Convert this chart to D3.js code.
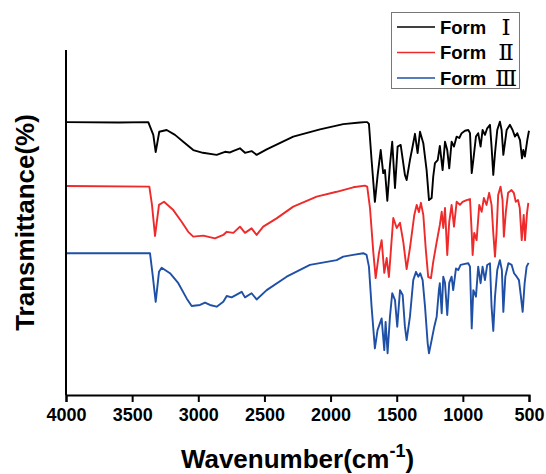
<!DOCTYPE html>
<html>
<head>
<meta charset="utf-8">
<script src="https://cdn.jsdelivr.net/npm/d3@7"></script>
<style>
  body { margin: 0; background: #fff; }
  svg text { font-family: "Liberation Sans", Arial, sans-serif; font-weight: bold; }
  svg text.numeral { font-family: "DejaVu Serif", "Liberation Serif", serif; font-weight: normal; }
</style>
</head>
<body>
<div id="chart"></div>
<script>
// [wavenumber, transmittance (offset, a.u.)]
var formI = [
  [4000,79.1],[3600,79.0],[3378,79.1],[3340,75.4],[3322,70.4],[3295,76.3],[3239,76.8],[3176,75.4],
  [3100,73.0],[3038,71.0],[2965,70.2],[2861,69.6],[2798,70.5],[2760,70.3],[2738,70.7],[2685,71.5],
  [2647,70.2],[2597,70.7],[2559,69.6],[2483,71.2],[2282,74.9],[2080,77.0],[1904,78.5],[1778,79.0],
  [1741,79.1],[1723,79.1],[1710,78.6],[1690,68.1],[1665,56.0],[1644,63.8],[1621,71.0],[1602,64.3],
  [1589,65.2],[1571,56.3],[1551,66.7],[1534,73.4],[1513,60.0],[1493,72.0],[1470,72.5],[1438,63.8],
  [1425,62.3],[1400,68.1],[1382,71.6],[1362,75.7],[1342,70.1],[1324,76.3],[1299,73.0],[1274,65.2],
  [1256,56.5],[1236,57.1],[1224,63.3],[1211,67.2],[1190,68.1],[1174,72.2],[1153,65.2],[1135,73.4],
  [1118,71.0],[1103,65.7],[1085,73.4],[1067,72.0],[1047,74.9],[1027,74.5],[1009,75.9],[984,76.6],
  [959,76.8],[946,75.9],[933,64.3],[921,68.1],[901,74.9],[884,75.9],[866,72.0],[851,76.8],
  [833,75.4],[816,77.3],[795,78.3],[783,72.0],[770,63.8],[757,70.1],[740,76.8],[720,79.2],
  [707,76.8],[694,69.6],[682,73.0],[669,76.8],[644,78.3],[624,76.8],[606,74.9],[589,75.9],
  [568,73.9],[553,68.6],[543,71.0],[531,69.1],[513,73.9],[500,76.6]
];

var formII = [
  [4000,60.6],[3370,60.4],[3350,55.1],[3327,46.1],[3297,55.1],[3259,56.0],[3189,53.6],[3126,50.2],
  [3076,47.3],[3038,45.9],[2962,46.2],[2874,45.4],[2811,46.4],[2785,47.3],[2735,47.0],[2685,48.8],
  [2647,47.0],[2597,48.3],[2559,46.4],[2509,48.8],[2408,51.2],[2282,54.6],[2105,57.5],[1954,58.9],
  [1829,60.2],[1741,60.7],[1723,60.4],[1702,54.2],[1677,41.4],[1659,33.9],[1634,41.2],[1614,44.9],
  [1594,35.4],[1576,39.7],[1559,34.2],[1526,51.3],[1500,48.4],[1475,49.9],[1450,44.3],[1425,36.5],
  [1400,42.6],[1367,52.2],[1349,55.1],[1332,53.0],[1317,55.7],[1299,52.2],[1281,42.6],[1262,34.2],
  [1241,33.9],[1224,38.6],[1198,44.3],[1174,49.3],[1160,53.1],[1148,48.4],[1135,54.2],[1118,40.6],
  [1103,50.2],[1085,55.1],[1067,48.8],[1047,56.0],[1022,55.1],[1002,56.0],[972,56.5],[946,56.8],
  [933,47.0],[926,40.6],[914,47.0],[896,44.9],[876,55.1],[858,53.1],[841,57.1],[821,55.1],
  [801,58.6],[783,55.1],[770,47.0],[757,40.1],[745,47.3],[733,58.0],[715,60.4],[700,56.5],
  [690,45.9],[675,53.1],[658,58.6],[632,59.4],[615,58.6],[600,56.0],[583,56.5],[570,54.2],
  [555,44.9],[540,52.2],[530,44.9],[515,52.8],[505,55.7]
];

var formIII = [
  [4000,41.1],[3365,41.1],[3345,34.8],[3322,27.0],[3297,35.7],[3277,36.9],[3214,35.3],[3151,32.4],
  [3088,28.0],[3050,25.8],[2987,26.1],[2949,26.8],[2912,26.1],[2861,25.6],[2811,27.0],[2785,28.7],
  [2748,28.3],[2672,29.9],[2647,28.3],[2597,29.5],[2559,27.7],[2483,30.4],[2332,34.3],[2156,37.7],
  [1954,39.1],[1904,40.1],[1829,40.6],[1753,41.1],[1728,40.6],[1710,37.2],[1690,25.6],[1665,13.5],
  [1645,18.8],[1614,22.2],[1594,13.0],[1584,21.2],[1569,12.1],[1551,22.7],[1534,29.5],[1513,27.5],
  [1496,19.8],[1475,30.4],[1455,29.0],[1438,19.8],[1425,15.9],[1400,22.7],[1375,33.3],[1354,35.7],
  [1337,34.3],[1322,35.3],[1304,33.3],[1286,25.6],[1266,15.0],[1256,12.1],[1236,15.9],[1216,19.8],
  [1198,22.7],[1181,30.4],[1174,32.4],[1160,23.7],[1148,34.3],[1135,32.5],[1118,23.2],[1103,32.5],
  [1085,34.3],[1073,30.4],[1052,36.7],[1035,36.2],[1017,37.7],[984,38.0],[959,38.2],[946,37.2],
  [933,19.3],[921,30.4],[901,28.5],[884,37.2],[866,32.4],[851,37.2],[833,33.3],[816,37.7],
  [795,38.2],[783,25.6],[770,18.6],[757,28.5],[740,36.2],[720,39.1],[705,36.2],[694,24.1],
  [679,34.3],[656,38.2],[631,37.7],[613,35.3],[593,34.3],[576,33.3],[561,28.5],[548,24.1],
  [533,32.4],[518,37.2],[503,38.3]
];

var seriesNames = ["Form", "Form", "Form"];
var seriesNumerals = ["\u2160", "\u2161", "\u2162"];
var seriesColors = ["#000000", "#ee2a2a", "#1f50a6"];
var xTicks = [4000, 3500, 3000, 2500, 2000, 1500, 1000, 500];

var width = 546, height = 474;
var margin = { top: 50, right: 17, bottom: 79, left: 66 };

var svg = d3.select("#chart").append("svg")
    .attr("width", width)
    .attr("height", height);

var x = d3.scaleLinear()
    .domain([4000, 500])
    .range([margin.left, width - margin.right]);

var y = d3.scaleLinear()
    .domain([0, 100])
    .range([height - margin.bottom, margin.top]);

var line = d3.line()
    .x(function (d) { return x(d[0]); })
    .y(function (d) { return y(d[1]); });

[formI, formII, formIII].forEach(function (s, i) {
    svg.append("path")
        .datum(s)
        .attr("fill", "none")
        .attr("stroke", seriesColors[i])
        .attr("stroke-width", 1.9)
        .attr("stroke-linejoin", "round")
        .attr("d", line);
});

// x axis with minor ticks
var minor = d3.range(4000, 499, -250).filter(function (v) { return v % 500 !== 0; });
var gx = svg.append("g")
    .attr("transform", "translate(0," + y(0) + ")");
gx.call(d3.axisBottom(x).tickValues(minor).tickSize(4).tickFormat(""));
gx.call(d3.axisBottom(x).tickValues(xTicks).tickSize(7).tickFormat(d3.format("d")));
gx.selectAll("path, line").attr("stroke", "#000").attr("stroke-width", 2);
gx.selectAll("text")
    .attr("font-size", 18)
    .attr("fill", "#000")
    .attr("dy", "0.9em");

// y axis line only
svg.append("line")
    .attr("x1", x(4000)).attr("x2", x(4000))
    .attr("y1", y(100)).attr("y2", y(0))
    .attr("stroke", "#000")
    .attr("stroke-width", 2);

// axis titles
var xt = svg.append("text")
    .attr("x", (x(4000) + x(500)) / 2)
    .attr("y", 468)
    .attr("text-anchor", "middle")
    .attr("font-size", 26);
xt.append("tspan").text("Wavenumber(cm");
xt.append("tspan").attr("font-size", 18).attr("dy", -11).text("-1");
xt.append("tspan").attr("dy", 11).text(")");

svg.append("text")
    .attr("transform", "translate(34," + ((y(0) + y(100)) / 2) + ") rotate(-90)")
    .attr("text-anchor", "middle")
    .attr("font-size", 26)
    .text("Transmittance(%)");

// legend
var legend = svg.append("g");
legend.append("rect")
    .attr("x", 391.5).attr("y", 12.5)
    .attr("width", 128).attr("height", 76)
    .attr("fill", "#fff")
    .attr("stroke", "#777")
    .attr("stroke-width", 1);

seriesNames.forEach(function (n, i) {
    var ly = 27 + i * 25.5;
    legend.append("line")
        .attr("x1", 397).attr("x2", 435)
        .attr("y1", ly).attr("y2", ly)
        .attr("stroke", seriesColors[i])
        .attr("stroke-width", 1.6);
    legend.append("text")
        .attr("x", 440).attr("y", ly + 6.5)
        .attr("font-size", 18.5)
        .text(n);
    legend.append("text")
        .attr("class", "numeral")
        .attr("x", 506).attr("y", ly + 7.5)
        .attr("text-anchor", "middle")
        .attr("font-size", 23)
        .text(seriesNumerals[i]);
});
</script>
</body>
</html>
